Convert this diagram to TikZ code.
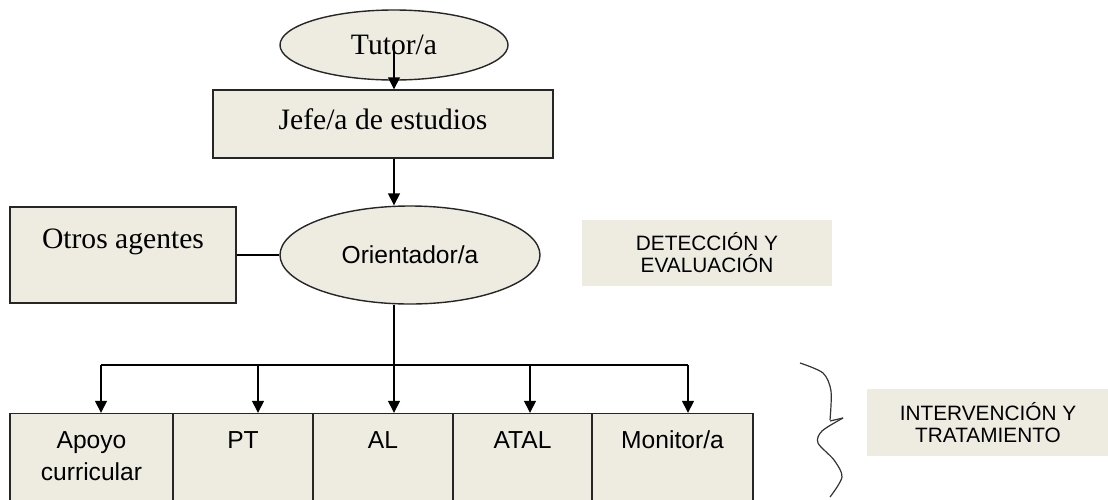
\documentclass[tikz,border=0pt]{standalone}
\usepackage{fontspec}
\setmainfont{Liberation Serif}
\setsansfont{Liberation Sans}
\usetikzlibrary{shapes.geometric,arrows.meta}
\definecolor{fondo}{HTML}{EEECE1}
\tikzset{
  caja/.style={draw=black!85, fill=fondo, line width=0.7pt, inner sep=0pt},
  elipse/.style={caja, ellipse},
  serif/.style={font=\rmfamily\fontsize{14.8}{17}\selectfont},
  sans/.style={font=\sffamily\fontsize{12.3}{16}\selectfont},
  abajo/.style={caja, sans, text height=17.5pt, text depth=27pt},
  etiqueta/.style={fill=fondo, inner sep=0pt, align=center, font=\sffamily\fontsize{10.4}{11}\selectfont},
  flecha/.style={-{Triangle[length=6pt,width=6pt]}, line width=0.7pt},
}
\begin{document}
\begin{tikzpicture}[x=0.5pt, y=-0.5pt]
  \useasboundingbox (0,0) rectangle (1108,499);
  \node[elipse, serif, minimum width=114pt, minimum height=35pt] (tutor) at (394,45) {Tutor/a};
  \node[caja, serif, minimum width=170pt, text height=19.5pt, text depth=14.5pt] (jefe) at (383,124) {Jefe/a de estudios};
  \node[caja, serif, minimum width=113pt, text height=20.5pt, text depth=27.5pt] (otros) at (123,255) {Otros agentes};
  \node[elipse, sans, minimum width=130pt, minimum height=49pt] (orient) at (410,255) {Orientador/a};
  \node[etiqueta, minimum width=125pt, minimum height=33pt] (deteccion) at (707,253) {DETECCIÓN Y\\EVALUACIÓN};
  \node[abajo, minimum width=81.5pt] (apoyo) at (91.5,458) {\begin{tabular}[t]{@{}c@{}}Apoyo\\curricular\end{tabular}};
  \node[abajo, minimum width=70pt] (pt) at (243,458) {PT};
  \node[abajo, minimum width=70pt] (al) at (383,458) {AL};
  \node[abajo, minimum width=69.5pt] (atal) at (522.5,458) {ATAL};
  \node[abajo, minimum width=80.5pt] (monitor) at (672.5,458) {Monitor/a};
  \node[etiqueta, minimum width=121pt, minimum height=33.5pt] (intervencion) at (988,422.5) {INTERVENCIÓN Y\\TRATAMIENTO};
  \coordinate (eje) at (394,0);
  \coordinate (b1) at (101,365);
  \coordinate (b2) at (258,365);
  \coordinate (b3) at (394,365);
  \coordinate (b4) at (530,365);
  \coordinate (b5) at (688,365);
  \draw[flecha] (eje |- tutor.center) -- (eje |- jefe.north);
  \draw[flecha] (eje |- jefe.south) -- (eje |- orient.north);
  \draw[line width=0.7pt] (otros.east) -- (orient.west);
  \draw[flecha] (eje |- orient.south) -- (eje |- al.north);
  \draw[line width=0.7pt] (b1) -- (b5);
  \foreach \n/\b in {apoyo/b1, pt/b2, atal/b4, monitor/b5}
    \draw[flecha] (\b) -- (\b |- \n.north);
  \draw[line width=0.6pt, black!80] plot[smooth] coordinates {(800,363) (823,373) (831,391) (830,420)};
  \draw[line width=0.6pt, black!80] (830,421) -- (843,418);
  \draw[line width=0.6pt, black!80] plot[smooth] coordinates {(843,418) (822,431) (818,443) (834,460) (842,477) (830,497)};
\end{tikzpicture}
\end{document}
